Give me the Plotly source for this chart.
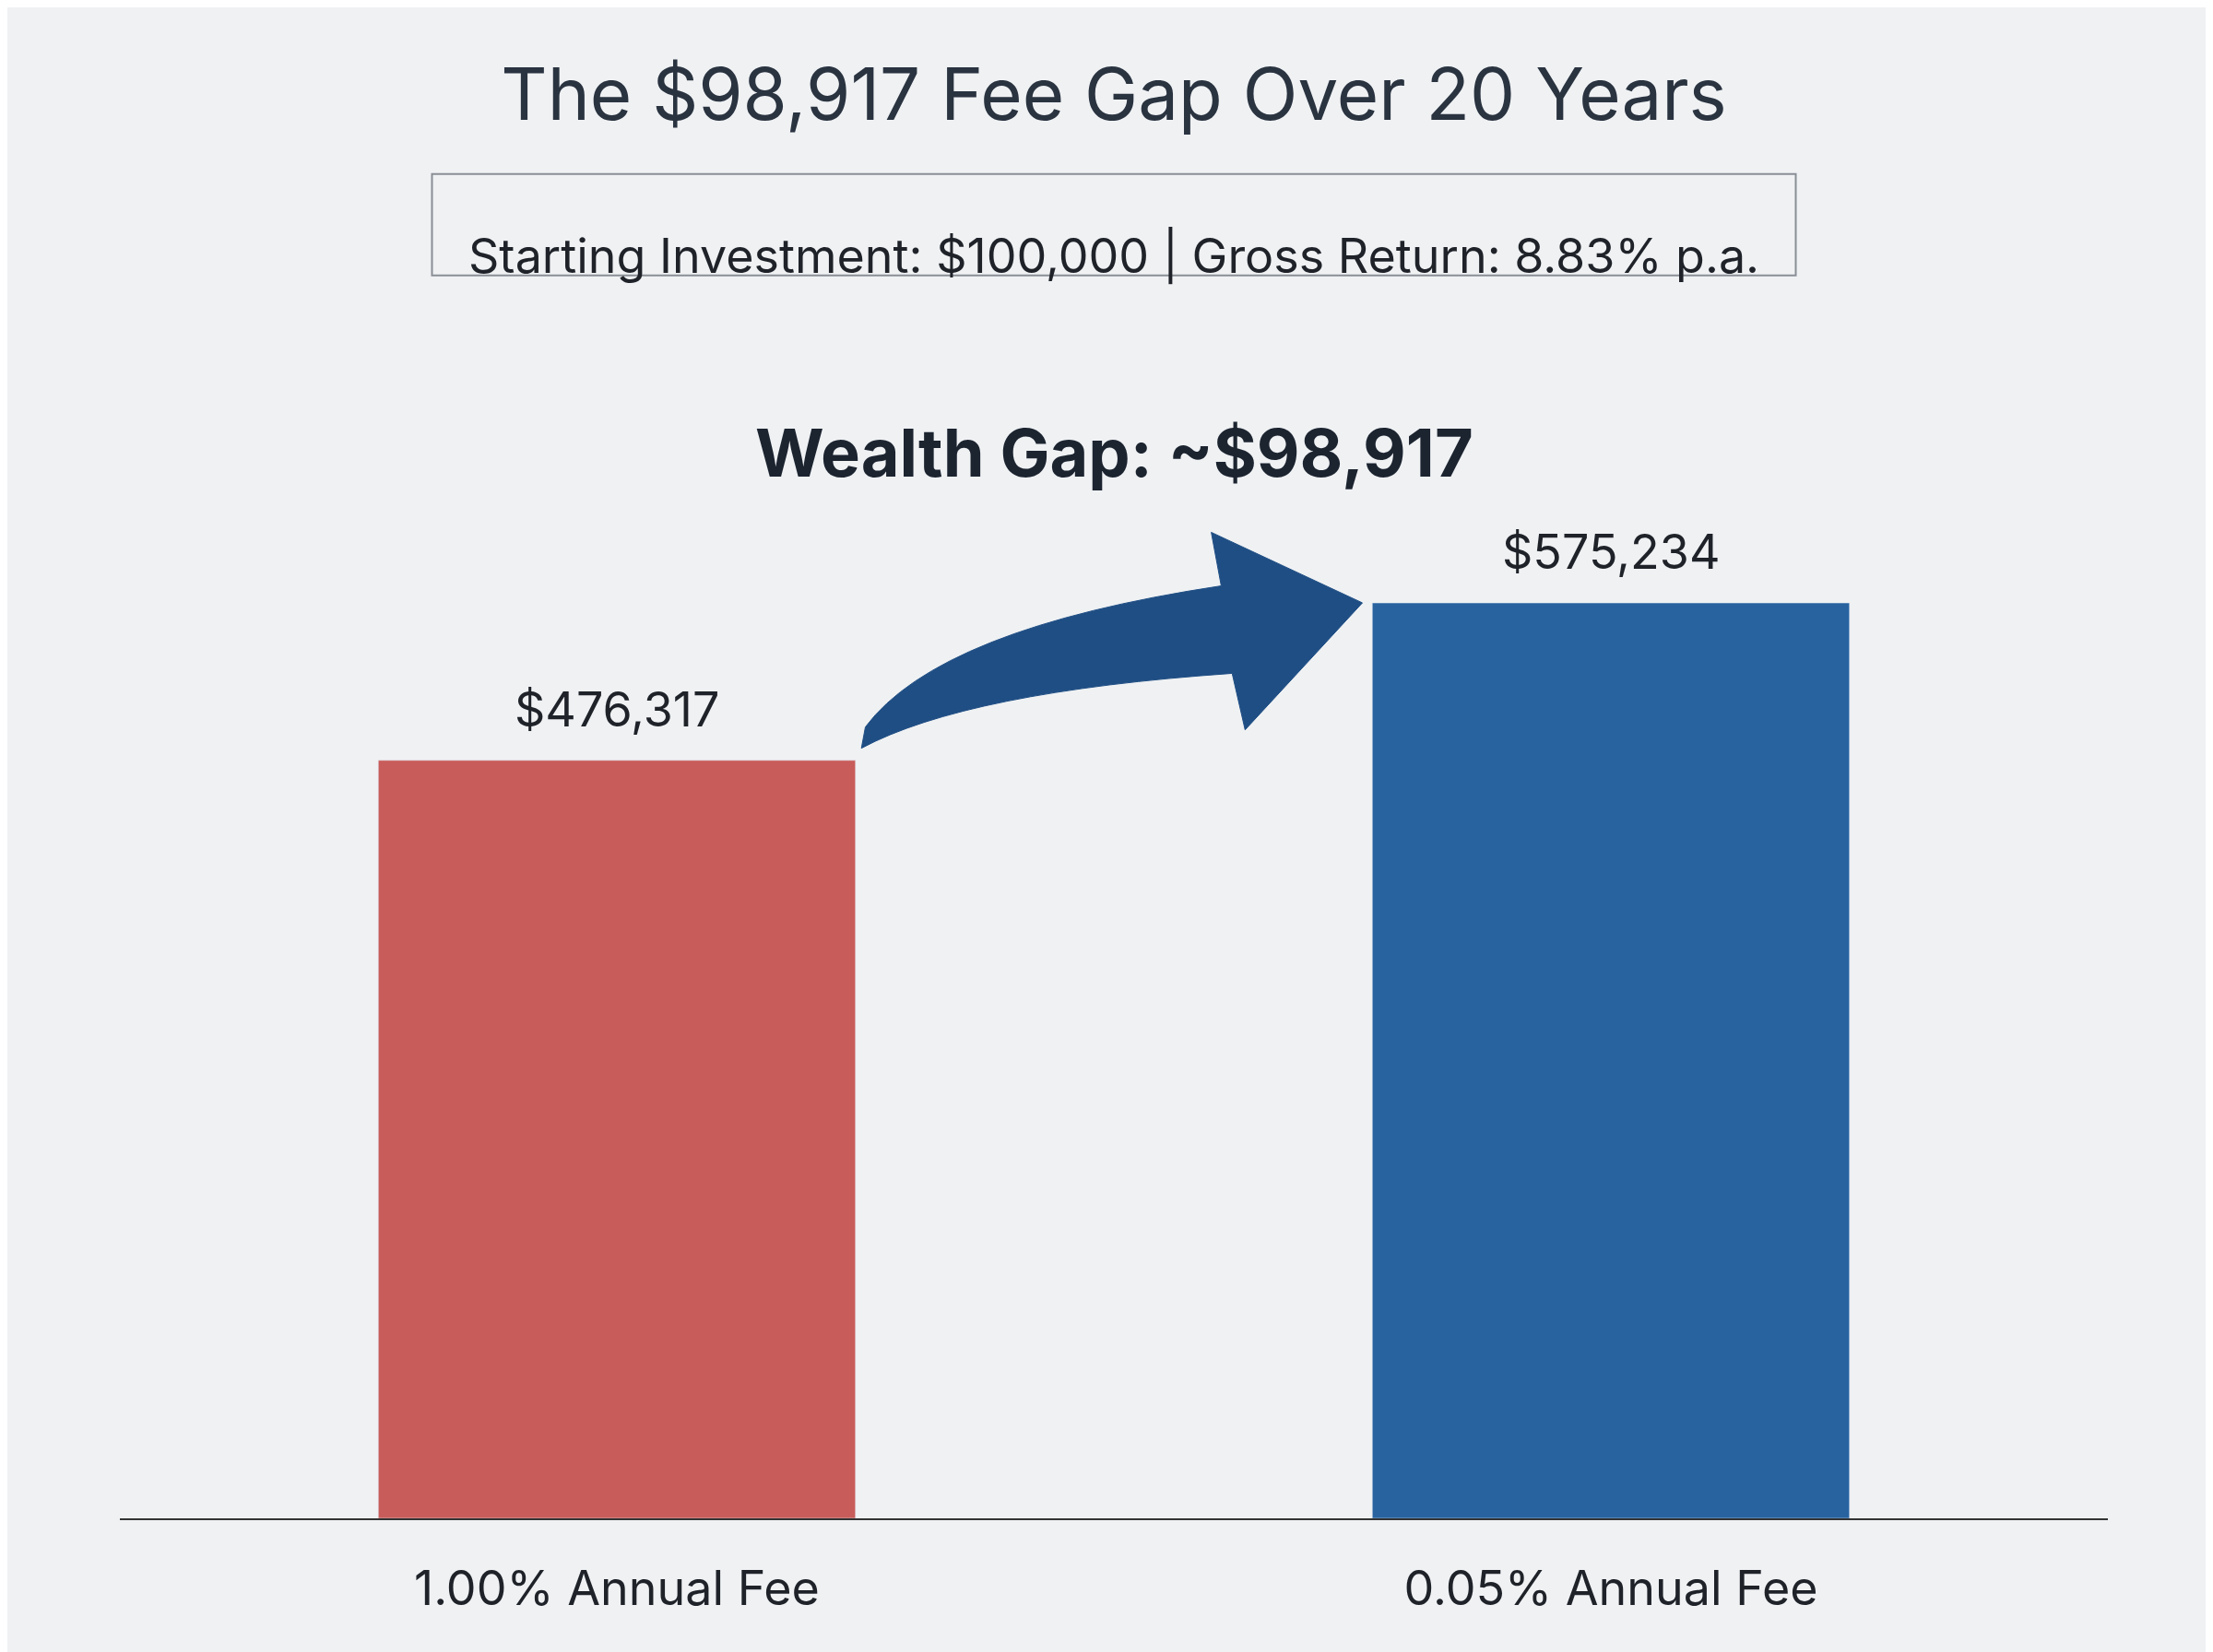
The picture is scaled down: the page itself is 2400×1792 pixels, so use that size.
import plotly.graph_objects as go

categories = ["1.00% Annual Fee", "0.05% Annual Fee"]
values = [476317, 575234]
value_labels = ["$476,317", "$575,234"]
colors = ["#c85c5a", "#2863a0"]
gap_label = "Wealth Gap: ~$98,917"
title = "The $98,917 Fee Gap Over 20 Years"
subtitle = "Starting Investment: $100,000 | Gross Return: 8.83% p.a."

xs = list(range(len(categories)))
fig = go.Figure(go.Bar(x=xs, y=values, marker_color=colors, width=0.48))

for x, v, t in zip(xs, values, value_labels):
    fig.add_annotation(x=x, y=v, text=t, showarrow=False, yanchor="bottom", yshift=22,
                       font=dict(size=52, color="#1f2329"))

fig.add_annotation(x=0.5, y=670000, text="<b>" + gap_label + "</b>", showarrow=False,
                   font=dict(size=72, color="#1c2430"))

# curved arrow from lower bar to higher bar
arrow = ("M 0.246,483940 Q 0.352,519450 0.619,530980 L 0.632,495470 L 0.75,575290 "
         "L 0.598,619610 L 0.608,585960 Q 0.324,559300 0.25,497260 Z")
fig.add_shape(type="path", path=arrow, xref="x", yref="y", fillcolor="#1f4e84",
              line=dict(color="#1f4e84", width=1))

fig.add_shape(type="rect", xref="paper", yref="paper", x0=0.157 , x1=0.843, y0=1.007, y1=1.089,
              line=dict(color="#8a8f96", width=2), fillcolor="rgba(0,0,0,0)")
fig.add_annotation(xref="paper", yref="paper", x=0.5, y=1.048, text=subtitle, showarrow=False,
                   font=dict(size=52, color="#1f2329"))

fig.update_layout(
    width=2400, height=1792, paper_bgcolor="#eff1f3", plot_bgcolor="#eff1f3",
    font=dict(family="Inter, Open Sans, sans-serif"),
    title=dict(text=title, x=0.5, xanchor="center", y=0.947, yanchor="middle",
               font=dict(size=78, color="#2a3340")),
    margin=dict(l=122, r=122, t=300, b=153), showlegend=False,
    xaxis=dict(range=[-0.5, 1.5], tickvals=xs, ticktext=categories, showgrid=False,
               zeroline=False, showline=True, linecolor="#333", linewidth=2,
               tickfont=dict(size=52, color="#1f2329"), ticks="", ticklabelstandoff=30),
    yaxis=dict(range=[0, 775700], visible=False, showgrid=False),
)
fig.write_html("out.html")
